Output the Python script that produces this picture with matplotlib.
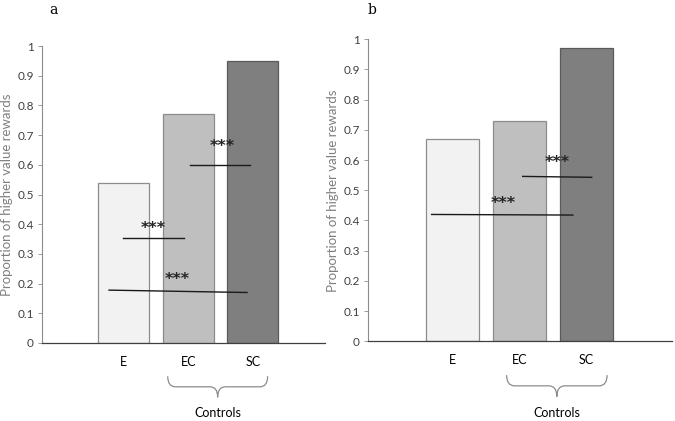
import matplotlib
matplotlib.use("Agg")
import matplotlib.pyplot as plt
from matplotlib.path import Path
from matplotlib.patches import PathPatch
import matplotlib.transforms as mtransforms

plt.rcParams['font.family'] = ['Lato', 'DejaVu Sans']

groups = ['E', 'EC', 'SC']
vals_a = [0.54, 0.77, 0.95]
vals_b = [0.67, 0.73, 0.97]
yticks = [0, 0.1, 0.2, 0.3, 0.4, 0.5, 0.6, 0.7, 0.8, 0.9, 1]
ytick_labels = ['0', '0.1', '0.2', '0.3', '0.4', '0.5', '0.6', '0.7', '0.8', '0.9', '1']

face_colors = ['#f2f2f2', '#bfbfbf', '#7f7f7f']
edge_colors = ['#8c8c8c', '#8c8c8c', '#5a5a5a']

# significance lines: (x0, x1, y0, y1), star position (x, y)
sig_a = [((-0.02, 0.93, 0.355, 0.355), (0.45, 0.385)),
         ((-0.23, 1.91, 0.178, 0.170), (0.83, 0.215)),
         ((1.03, 1.96, 0.600, 0.600), (1.53, 0.66))]
sig_b = [((-0.31, 1.80, 0.420, 0.418), (0.76, 0.455)),
         ((1.05, 2.08, 0.546, 0.543), (1.56, 0.593))]


def brace(ax, x0, x1, ytop, ybot):
    trans = mtransforms.blended_transform_factory(ax.transData, ax.transAxes)
    xc = (x0 + x1) / 2
    ym = (ytop + ybot) / 2
    d = 0.12
    verts = [(x0, ytop), (x0, ym), (x0 + d, ym),
             (xc - d, ym), (xc, ym), (xc, ybot),
             (xc, ym), (xc + d, ym),
             (x1 - d, ym), (x1, ym), (x1, ytop)]
    codes = [Path.MOVETO, Path.CURVE3, Path.CURVE3,
             Path.LINETO, Path.CURVE3, Path.CURVE3,
             Path.CURVE3, Path.CURVE3,
             Path.LINETO, Path.CURVE3, Path.CURVE3]
    p = PathPatch(Path(verts, codes), transform=trans, fill=False,
                  edgecolor='#8c8c8c', lw=0.9, clip_on=False)
    ax.add_patch(p)


def panel(ax, vals, sigs, xlim, brace_x):
    x = list(range(len(groups)))
    ax.bar(x, vals, width=0.79, color=face_colors, edgecolor=edge_colors, linewidth=0.9)
    ax.set_xlim(*xlim)
    ax.set_ylim(0, 1)
    ax.set_yticks(yticks)
    ax.set_yticklabels(ytick_labels)
    ax.set_xticks(x)
    ax.set_xticklabels(groups)
    ax.tick_params(axis='y', labelsize=8.5, colors='#8c8c8c', length=3, width=0.6, pad=3)
    ax.tick_params(axis='x', labelsize=9, colors='#000000', length=0, pad=9.5)
    for lab in ax.get_yticklabels():
        lab.set_color('#404040')
    ax.spines['top'].set_visible(False)
    ax.spines['right'].set_visible(False)
    ax.spines['left'].set_color('#8c8c8c')
    ax.spines['left'].set_linewidth(0.8)
    ax.spines['bottom'].set_color('#404040')
    ax.spines['bottom'].set_linewidth(0.9)
    ax.set_ylabel('Proportion of higher value rewards', fontsize=9.5, color='#7f7f7f', labelpad=3)

    for (x0, x1, y0, y1), (sx, sy) in sigs:
        ax.plot([x0, x1], [y0, y1], color='#1a1a1a', lw=1.0)
        ax.text(sx, sy, '***', ha='center', va='center', fontsize=11.5, color='#262626',
                fontweight='semibold', family=['DejaVu Sans'])

    brace(ax, brace_x[0], brace_x[1], -0.112, -0.183)
    trans = mtransforms.blended_transform_factory(ax.transData, ax.transAxes)
    ax.text((brace_x[0] + brace_x[1]) / 2, -0.236, 'Controls', transform=trans,
            ha='center', va='center', fontsize=9)


fig = plt.figure(figsize=(6.75, 4.21), dpi=100)
ax_a = fig.add_axes([0.0622, 0.1853, 0.4193, 0.7054])
ax_b = fig.add_axes([0.5452, 0.1893, 0.4504, 0.7174])

panel(ax_a, vals_a, sig_a, (-1.27, 3.12), (0.68, 2.23))
panel(ax_b, vals_b, sig_b, (-1.26, 3.28), (0.81, 2.31))

fig.text(49 / 675, 1 - 10 / 421, 'a', ha='left', va='center', fontsize=10, family=['DejaVu Serif'])
fig.text(368 / 675, 1 - 10 / 421, 'b', ha='left', va='center', fontsize=10, family=['DejaVu Serif'])

fig.savefig('out.png', dpi=100)
